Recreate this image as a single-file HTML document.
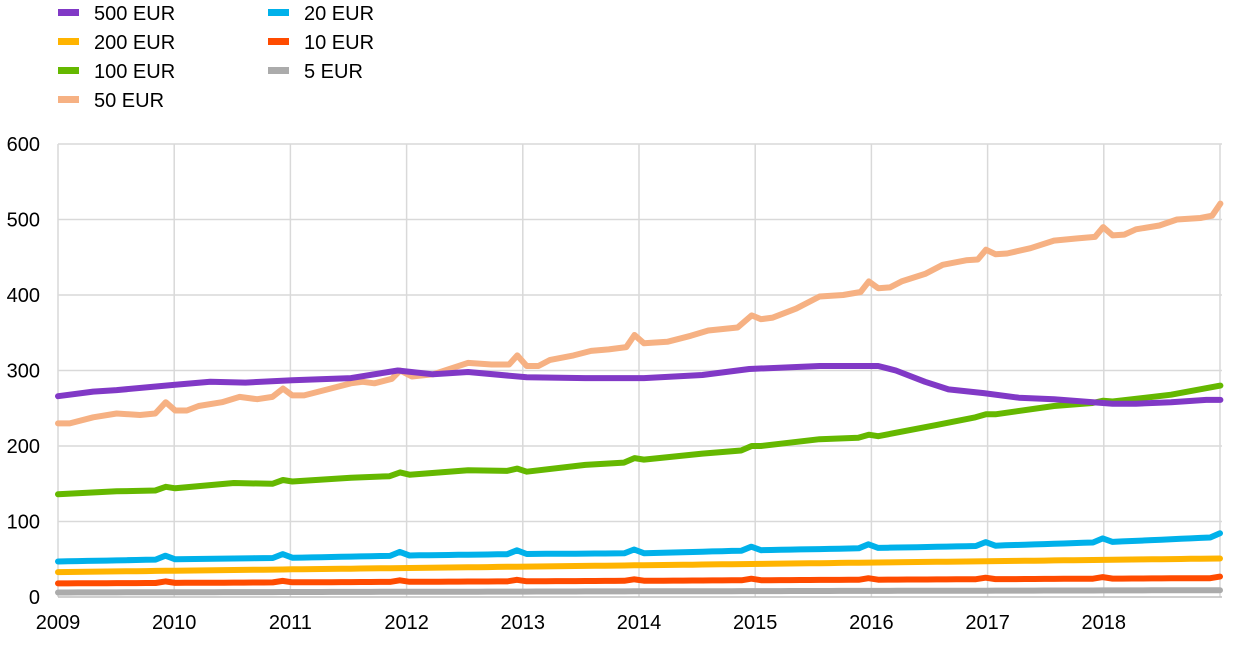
<!DOCTYPE html>
<html><head><meta charset="utf-8"><style>
body{margin:0;background:#fff;width:1240px;height:643px;overflow:hidden;font-family:"Liberation Sans",sans-serif}
svg text{font-family:"Liberation Sans",sans-serif;font-size:20px;fill:#000}
</style></head><body>
<svg id="s" width="1240" height="643" xmlns="http://www.w3.org/2000/svg">
<g id="grid" stroke="#d9d9d9" stroke-width="1.5"></g>
<g id="lab"></g>
<g id="ser" fill="none" stroke-width="6" stroke-linejoin="round" stroke-linecap="round"></g>
<g id="leg"></g>
</svg>
<script>
const X=t=>58+116.2*(t-2009), Y=v=>597-0.755*v;
const XD=t=>X(2009+(t-2009)*10/9.917);
const NS="http://www.w3.org/2000/svg";
function el(p,tag,a,txt){const e=document.createElementNS(NS,tag);for(const k in a)e.setAttribute(k,a[k]);if(txt!=null)e.textContent=txt;document.getElementById(p).appendChild(e);}
for(let v=100;v<=600;v+=100)el('grid','line',{x1:58,x2:1222,y1:Y(v),y2:Y(v)});
for(let y=2009;y<=2019;y++)el('grid','line',{x1:X(y),x2:X(y),y1:Y(600),y2:597});
el('grid','line',{x1:58,x2:1222,y1:597,y2:597,stroke:'#bfbfbf'});
for(let v=0;v<=600;v+=100)el('lab','text',{x:40,y:Y(v)+7,'text-anchor':'end'},v);
for(let y=2009;y<=2018;y++)el('lab','text',{x:X(y),y:629,'text-anchor':'middle'},y);
function path(pts){return 'M'+pts.map(p=>XD(p[0]).toFixed(1)+','+Y(p[1]).toFixed(1)).join('L');}
function lin(a,b,spike){const pts=[];for(let m=0;m<120;m++){const t=2009+m/12;let v=a+(b-a)*m/119;if(m%12==11&&spike)v+=spike;pts.push([t,v]);}return pts;}
const P=s=>s.trim().split(/\s+/).map(x=>x.split(':').map(Number));
const d50=P(`2009:230 2009.1:230 2009.3:238 2009.5:243 2009.7:241 2009.83:243 2009.92:258 2010:247 2010.1:247 2010.2:253 2010.4:258 2010.55:265 2010.7:262 2010.83:265 2010.92:276 2011:267 2011.1:267 2011.3:275 2011.5:283 2011.6:285 2011.7:283 2011.85:289 2011.92:300 2012.02:292 2012.2:295 2012.4:305 2012.5:310 2012.7:308 2012.85:308 2012.92:320 2013:306 2013.1:306 2013.2:314 2013.4:320 2013.55:326 2013.7:328 2013.85:331 2013.92:347 2014:336 2014.2:338 2014.4:346 2014.55:353 2014.8:357 2014.92:373 2015:368 2015.1:370 2015.3:382 2015.5:398 2015.7:400 2015.85:404 2015.92:418 2016:409 2016.1:410 2016.2:418 2016.4:428 2016.55:440 2016.75:446 2016.85:447 2016.92:460 2017:454 2017.1:455 2017.3:462 2017.5:472 2017.7:475 2017.85:477 2017.92:490 2018:479 2018.1:480 2018.2:487 2018.4:492 2018.55:500 2018.75:502 2018.85:505 2018.92:521`);
const d500=P(`2009:266 2009.3:272 2009.5:274 2010:281 2010.3:285 2010.6:284 2011:287 2011.5:290 2011.9:300 2012.2:295 2012.5:298 2013:291 2013.5:290 2014:290 2014.5:294 2014.9:302 2015.5:306 2016:306 2016.15:300 2016.4:285 2016.6:275 2016.9:270 2017.2:264 2017.5:262 2018:256 2018.2:256 2018.5:258 2018.8:261 2018.92:261`);
const d100=P(`2009:136 2009.5:140 2009.83:141 2009.92:146 2010:144 2010.5:151 2010.83:150 2010.92:155 2011:153 2011.5:158 2011.83:160 2011.92:165 2012:162 2012.5:168 2012.83:167 2012.92:170 2013:166 2013.5:175 2013.83:178 2013.92:184 2014:182 2014.5:190 2014.83:194 2014.92:200 2015:200 2015.5:209 2015.83:211 2015.92:215 2016:213 2016.5:228 2016.83:238 2016.92:242 2017:242 2017.5:253 2017.83:257 2017.92:260 2018:259 2018.5:268 2018.92:280`);
const d20=[],yv=[47,50,52,55,57,58,62,65,68,73,80];
for(let m=0;m<120;m++){const y=Math.floor(m/12),f=(m%12)/12;let v=yv[y]+(yv[y+1]-yv[y])*f;if(m%12==11)v+=5;d20.push([2009+m/12,v]);}
const S=[['#ababab',lin(6,9,0)],['#ff4b00',lin(18,25,2)],['#ffb400',lin(33,51,0)],['#00b1ea',d20],['#65b800',d100],['#f6b183',d50],['#8139c6',d500]];
S.forEach(s=>el('ser','path',{d:path(s[1]),stroke:s[0]}));
const L=[['#8139c6','500 EUR',58,13],['#ffb400','200 EUR',58,42],['#65b800','100 EUR',58,71],['#f6b183','50 EUR',58,100],['#00b1ea','20 EUR',268,13],['#ff4b00','10 EUR',268,42],['#ababab','5 EUR',268,71]];
L.forEach(l=>{el('leg','rect',{x:l[2],y:l[3]-4,width:21,height:7,fill:l[0]});el('leg','text',{x:l[2]+36,y:l[3]+7},l[1]);});
</script>
</body></html>
